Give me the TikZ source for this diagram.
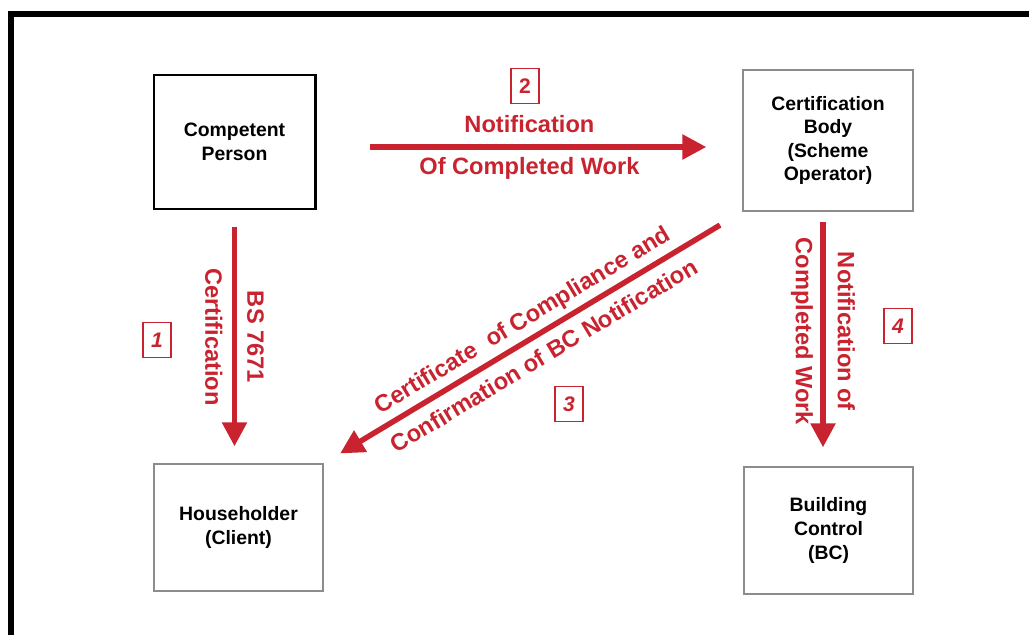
\documentclass[tikz,border=0pt]{standalone}
\usepackage{fontspec}
\setmainfont{Liberation Sans}
\usepackage{tikz}
\usetikzlibrary{arrows.meta}
\definecolor{flowred}{HTML}{C8232F}
\definecolor{boxgrey}{HTML}{8C8C8C}

\begin{document}
\begin{tikzpicture}[x=0.025cm, y=-0.025cm,
    party/.style={draw=boxgrey, line width=0.9pt, align=center,
                  font=\bfseries\fontsize{13.8}{16.8}\selectfont},
    flow/.style={draw=flowred, line width=3.9pt, -{Triangle[length=17pt, width=17pt]}},
    flowtext/.style={text=flowred, align=center, font=\bfseries\fontsize{16.8}{30}\selectfont},
    stepno/.style={draw=flowred, line width=0.8pt, text=flowred, inner sep=0pt,
                   minimum width=0.7cm, minimum height=0.87cm,
                   font=\bfseries\itshape\fontsize{15}{15}\selectfont}]
  \useasboundingbox (0,0) rectangle (1029,635);

  % frame, open at right and bottom
  \draw[line width=4.25pt] (11,640) -- (11,14) -- (1035,14);

  % the four parties
  \node[party, draw=black, line width=2.1pt, minimum width=4.025cm, minimum height=3.35cm]
    (cp) at (234.5,142) {Competent\\Person};
  \node[party, minimum width=4.25cm, minimum height=3.525cm]
    (cb) at (828,140.5) {Certification\\Body\\(Scheme\\Operator)};
  \node[party, minimum width=4.225cm, minimum height=3.175cm]
    (hh) at (238.5,527.5) {Householder\\(Client)};
  \node[party, minimum width=4.225cm, minimum height=3.175cm]
    (bc) at (828.5,530.5) {Building\\Control\\(BC)};

  \coordinate (a2) at ([yshift=-0.125cm]cp.east);
  \coordinate (a4) at ([xshift=-0.125cm]cb.south);

  % 1: certificate to the householder
  \draw[flow, shorten <=0.425cm, shorten >=0.425cm] (cp.south) -- (cp.south |- hh.north)
    node[flowtext, midway, rotate=-90] {BS 7671\\Certification};
  % 2: notify the scheme operator
  \draw[flow, shorten <=1.325cm, shorten >=0.9cm] (a2) -- (a2 -| cb.west)
    node[flowtext, midway] {Notification\\Of Completed Work};
  % 3: compliance certificate back to the client
  \draw[flow, shorten <=0.65cm, shorten >=0.48cm] (cb.south west) -- (hh.north east)
    node[flowtext, midway, rotate=31] {Certificate~~of Compliance and\\Confirmation of BC Notification};
  % 4: scheme operator informs building control
  \draw[flow, shorten <=0.25cm, shorten >=0.475cm] (a4) -- (a4 |- bc.north)
    node[flowtext, pos=0.47, rotate=-90] {Notification of\\Completed Work};

  % step numbers
  \node[stepno] (n1) at (157,340) {1};
  \node[stepno, font=\bfseries\fontsize{15}{15}\selectfont] (n2) at (525,86) {2};
  \node[stepno] (n3) at (569,404) {3};
  \node[stepno] (n4) at (898,326) {4};
\end{tikzpicture}
\end{document}
